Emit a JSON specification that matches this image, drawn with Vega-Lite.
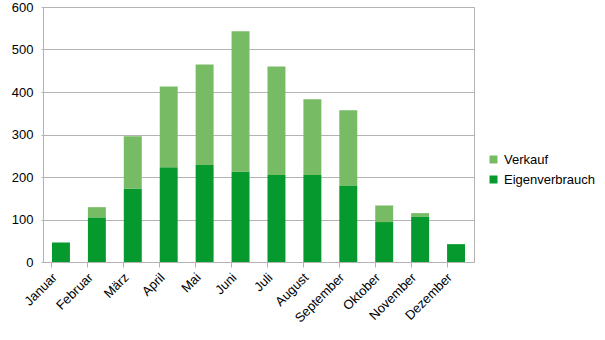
{
  "$schema": "https://vega.github.io/schema/vega-lite/v6.json",
  "autosize": {"type": "none"},
  "width": 431,
  "height": 255,
  "padding": {"left": 43, "top": 7, "right": 131, "bottom": 78},
  "background": "white",
  "config": {
    "font": "Liberation Sans",
    "view": {"stroke": "#b3b3b3", "strokeWidth": 1}
  },
  "data": {
    "values": [
      {"month": "Januar", "type": "Eigenverbrauch", "value": 46},
      {"month": "Februar", "type": "Eigenverbrauch", "value": 105},
      {"month": "März", "type": "Eigenverbrauch", "value": 173},
      {"month": "April", "type": "Eigenverbrauch", "value": 223},
      {"month": "Mai", "type": "Eigenverbrauch", "value": 228},
      {"month": "Juni", "type": "Eigenverbrauch", "value": 213},
      {"month": "Juli", "type": "Eigenverbrauch", "value": 205},
      {"month": "August", "type": "Eigenverbrauch", "value": 205},
      {"month": "September", "type": "Eigenverbrauch", "value": 179},
      {"month": "Oktober", "type": "Eigenverbrauch", "value": 94},
      {"month": "November", "type": "Eigenverbrauch", "value": 106},
      {"month": "Dezember", "type": "Eigenverbrauch", "value": 42},
      {"month": "Januar", "type": "Verkauf", "value": 0},
      {"month": "Februar", "type": "Verkauf", "value": 24},
      {"month": "März", "type": "Verkauf", "value": 123},
      {"month": "April", "type": "Verkauf", "value": 190},
      {"month": "Mai", "type": "Verkauf", "value": 237},
      {"month": "Juni", "type": "Verkauf", "value": 330},
      {"month": "Juli", "type": "Verkauf", "value": 255},
      {"month": "August", "type": "Verkauf", "value": 178},
      {"month": "September", "type": "Verkauf", "value": 178},
      {"month": "Oktober", "type": "Verkauf", "value": 39},
      {"month": "November", "type": "Verkauf", "value": 9},
      {"month": "Dezember", "type": "Verkauf", "value": 0}
    ]
  },
  "mark": {"type": "bar"},
  "encoding": {
    "x": {
      "field": "month",
      "type": "nominal",
      "sort": ["Januar", "Februar", "März", "April", "Mai", "Juni", "Juli", "August", "September", "Oktober", "November", "Dezember"],
      "scale": {"paddingInner": 0.5, "paddingOuter": 0.25},
      "axis": {
        "title": null,
        "labelAngle": -45,
        "labelAlign": "right",
        "labelBaseline": "middle",
        "labelFontSize": 13,
        "labelColor": "#000000",
        "labelPadding": 8,
        "labelOffset": -6,
        "bandPosition": 0,
        "tickColor": "#b3b3b3",
        "tickSize": 5,
        "domainColor": "#b3b3b3",
        "grid": false
      }
    },
    "y": {
      "field": "value",
      "type": "quantitative",
      "stack": "zero",
      "scale": {"domain": [0, 600], "nice": false},
      "axis": {
        "title": null,
        "values": [0, 100, 200, 300, 400, 500, 600],
        "labelFontSize": 13,
        "labelColor": "#000000",
        "labelPadding": 8,
        "tickSize": 2,
        "tickColor": "#b3b3b3",
        "domainColor": "#b3b3b3",
        "gridColor": "#b3b3b3",
        "grid": true
      }
    },
    "color": {
      "field": "type",
      "type": "nominal",
      "scale": {"domain": ["Verkauf", "Eigenverbrauch"], "range": ["#77BC65", "#069A2E"]},
      "legend": {
        "title": null,
        "orient": "none",
        "legendX": 444,
        "legendY": 146,
        "symbolType": "square",
        "symbolSize": 64,
        "symbolStrokeWidth": 0,
        "symbolOpacity": 1,
        "labelFontSize": 13,
        "labelColor": "#000000",
        "labelOffset": 4,
        "rowPadding": 6
      }
    },
    "order": {"field": "type", "sort": "ascending"}
  }
}
